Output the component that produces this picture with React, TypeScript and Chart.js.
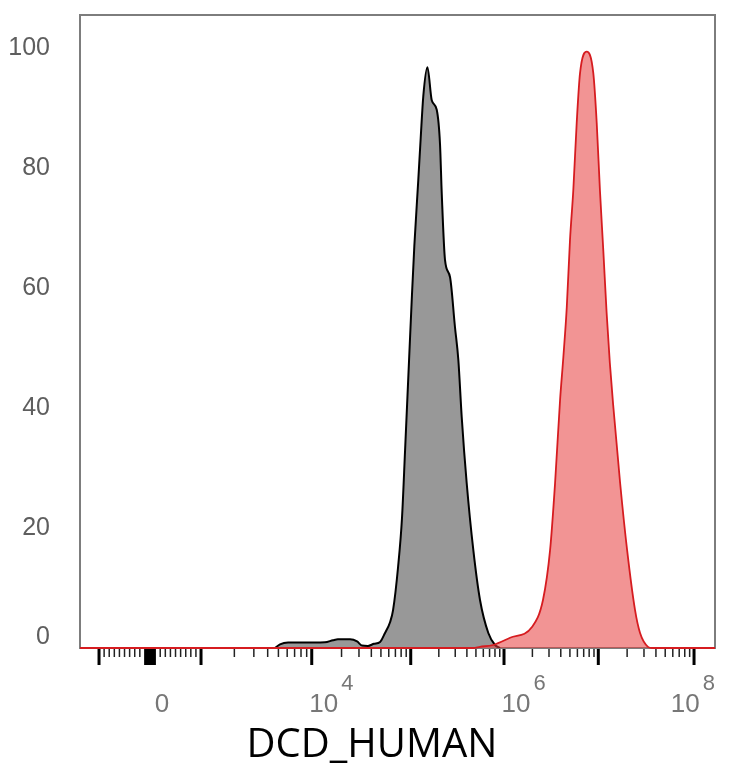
import React, { useEffect, useRef } from 'react';
import { Chart, registerables, LinearScale } from 'chart.js';

Chart.register(...registerables);

// ---------------- data ----------------
// Gray (control) histogram: intensity values and % of max
const GRAY_X = [4.65e3, 5.17e3, 6.11e3, 7.83e3, 1.36e4, 1.64e4, 1.84e4, 2.44e4, 2.87e4, 3.22e4, 3.70e4, 4.26e4, 4.90e4, 5.50e4, 6.18e4, 6.63e4, 7.45e4, 8.17e4, 8.77e4, 9.62e4, 1.025e5, 1.093e5, 1.205e5, 1.279e5, 1.364e5, 1.51e5, 1.68e5, 1.90e5, 2.06e5, 2.15e5, 2.33e5, 2.64e5, 2.98e5, 3.24e5, 3.52e5, 3.98e5, 4.69e5, 5.53e5, 6.79e5, 8.01e5, 9.06e5];
const GRAY_Y = [0, 0.6, 0.9, 0.9, 0.95, 1.3, 1.45, 1.45, 1.1, 0.4, 0.35, 0.7, 1.0, 2.5, 4.3, 6.3, 13.5, 21.8, 33, 48, 58, 67, 78, 85, 92, 96.8, 91.3, 89.7, 84, 75.8, 64.7, 61.8, 53.5, 48, 38.5, 27.5, 16.3, 8, 2.5, 0.5, 0];

// Red (DCD_HUMAN stained) histogram
const RED_X = [-1373, 4.66e5, 5.53e5, 7.62e5, 1.16e6, 1.98e6, 2.59e6, 3.08e6, 3.48e6, 3.93e6, 4.26e6, 4.63e6, 5.01e6, 5.43e6, 5.90e6, 6.40e6, 7.54e6, 8.85e6, 9.62e6, 1.04e7, 1.13e7, 1.22e7, 1.32e7, 1.43e7, 1.69e7, 2.00e7, 2.42e7, 2.73e7, 3.30e7, 3.64e7, 1.656e8];
const RED_Y = [0, 0, 0.2, 0.5, 1.7, 3.5, 8, 16.3, 27.5, 41.3, 48.5, 56.8, 68, 76.3, 87.5, 95.8, 99.4, 95.8, 87.5, 76.3, 66, 56, 47.5, 40.5, 27.5, 16.3, 6.3, 2.5, 0.2, 0, 0];

// axis range
const X_MIN = -1373;
const X_MAX = 1.656e8;
const Y_MIN = 0;
const Y_MAX = 105.5;
const Y_TICKS = [0, 20, 40, 60, 80, 100];

// x tick marks
const X_MAJOR_TICKS = [-1000, 0, 1000, 1e4, 1e5, 1e6, 1e7, 1e8];
const X_LINEAR_MINOR = [-900, -800, -700, -600, -500, -400, -300, -200, 200, 300, 400, 500, 600, 700, 800, 900];
const X_DENSE = [-100, -90, -80, -70, -60, -50, -40, -30, -20, -10, 10, 20, 30, 40, 50, 60, 70, 80, 90, 100];
const X_LOG_MULT = [2, 3, 4, 5, 6, 7, 8, 9];
const X_LOG_DECADES = [1e3, 1e4, 1e5, 1e6, 1e7];

// x tick labels (base, exponent)
const X_LABEL_VALUES = [0, 1e4, 1e6, 1e8];
const X_LABEL_BASE = ['0', '10', '10', '10'];
const X_LABEL_EXP = ['', '4', '6', '8'];

const X_TITLE = 'DCD_HUMAN';

// biexponential-like display transform (logicle style)
const DECADE_EXP = [3, 4, 5, 6, 7, 8];
const DECADE_POS = [1, 3.171, 5.112, 6.941, 8.79, 10.667];
const LINEAR_LIMIT = 1000;

function fwd(v: number): number {
  if (v <= LINEAR_LIMIT) return v / LINEAR_LIMIT;
  const e = Math.log10(v);
  const n = DECADE_EXP.length;
  for (let i = 0; i < n - 1; i++) {
    if (e <= DECADE_EXP[i + 1]) {
      return DECADE_POS[i] + (e - DECADE_EXP[i]) * (DECADE_POS[i + 1] - DECADE_POS[i]);
    }
  }
  return DECADE_POS[n - 1] + (e - DECADE_EXP[n - 1]) * (DECADE_POS[n - 1] - DECADE_POS[n - 2]);
}

function inv(u: number): number {
  if (u <= 1) return u * LINEAR_LIMIT;
  const n = DECADE_EXP.length;
  for (let i = 0; i < n - 1; i++) {
    if (u <= DECADE_POS[i + 1]) {
      return Math.pow(10, DECADE_EXP[i] + (u - DECADE_POS[i]) / (DECADE_POS[i + 1] - DECADE_POS[i]));
    }
  }
  return Math.pow(10, DECADE_EXP[n - 1] + (u - DECADE_POS[n - 1]) / (DECADE_POS[n - 1] - DECADE_POS[n - 2]));
}

class BiexScale extends LinearScale {
  static id = 'biex';
  static defaults = LinearScale.defaults;
  _tStart = 0;
  _tRange = 1;
  buildTicks() {
    const ticks: any[] = [];
    X_MAJOR_TICKS.forEach((v) => ticks.push({ value: v, kind: 'major' }));
    X_LINEAR_MINOR.forEach((v) => ticks.push({ value: v, kind: 'minor' }));
    X_DENSE.forEach((v) => ticks.push({ value: v, kind: 'dense' }));
    X_LOG_DECADES.forEach((d) => X_LOG_MULT.forEach((m) => ticks.push({ value: d * m, kind: 'minor' })));
    ticks.sort((a, b) => a.value - b.value);
    return ticks;
  }
  configure() {
    super.configure();
    this._tStart = fwd(this.min);
    this._tRange = fwd(this.max) - this._tStart;
  }
  getPixelForValue(value: any) {
    if (value === null || value === undefined) return NaN;
    return this.getPixelForDecimal((fwd(value) - this._tStart) / this._tRange);
  }
  getValueForPixel(pixel: number) {
    return inv(this._tStart + this.getDecimalForPixel(pixel) * this._tRange);
  }
}
Chart.register(BiexScale as any);

const decorPlugin = {
  id: 'decor',
  beforeDatasetsDraw(chart: any) {
    const { ctx, chartArea } = chart;
    ctx.save();
    ctx.strokeStyle = '#7d7d7d';
    ctx.lineWidth = 2;
    ctx.strokeRect(chartArea.left, chartArea.top, chartArea.right - chartArea.left, chartArea.bottom - chartArea.top);
    ctx.restore();
  },
  afterDatasetsDraw(chart: any) {
    const { ctx, chartArea } = chart;
    const xs = chart.scales.x;
    ctx.save();
    const y0 = chartArea.bottom + 1;
    xs.ticks.forEach((t: any) => {
      const px = xs.getPixelForValue(t.value);
      let len = 8;
      let w = 1.5;
      let col = '#222';
      if (t.kind === 'major') { len = 16; w = 3; col = '#000'; }
      else if (t.kind === 'dense') { len = 16; w = 1.5; col = '#000'; }
      ctx.beginPath();
      ctx.strokeStyle = col;
      ctx.lineWidth = w;
      ctx.moveTo(px, y0);
      ctx.lineTo(px, y0 + len);
      ctx.stroke();
    });
    // tick labels
    const baseFont = '26px "Liberation Sans", Arial, sans-serif';
    const expFont = '22px "Liberation Sans", Arial, sans-serif';
    ctx.fillStyle = '#777';
    ctx.textBaseline = 'middle';
    X_LABEL_VALUES.forEach((v, i) => {
      let c = xs.getPixelForValue(v) + 12;
      ctx.font = baseFont;
      const bw = ctx.measureText(X_LABEL_BASE[i]).width;
      let ew = 0;
      if (X_LABEL_EXP[i]) {
        ctx.font = expFont;
        ew = ctx.measureText(X_LABEL_EXP[i]).width;
      }
      const rightEdge = c + bw / 2 + (ew ? 3 + ew : 0);
      const limit = chartArea.right;
      if (rightEdge > limit) c -= rightEdge - limit;
      ctx.font = baseFont;
      ctx.textAlign = 'center';
      ctx.fillText(X_LABEL_BASE[i], c, chartArea.bottom + 57);
      if (X_LABEL_EXP[i]) {
        ctx.font = expFont;
        ctx.textAlign = 'left';
        ctx.fillText(X_LABEL_EXP[i], c + bw / 2 + 3, chartArea.bottom + 36);
      }
    });
    // axis title
    ctx.fillStyle = '#000';
    ctx.font = '40px "Open Sans", "Noto Sans", sans-serif';
    ctx.textAlign = 'center';
    ctx.textBaseline = 'middle';
    ctx.fillText(X_TITLE, chart.width / 2 + 5, chartArea.bottom + 98);
    ctx.restore();
  },
};

export default function App() {
  const ref = useRef<HTMLCanvasElement>(null);
  useEffect(() => {
    if (!ref.current) return;
    const chart = new Chart(ref.current, {
      type: 'line',
      data: {
        datasets: [
          {
            label: 'DCD_HUMAN',
            data: RED_X.map((x, i) => ({ x, y: RED_Y[i] })),
            borderColor: 'rgb(214,28,32)',
            backgroundColor: 'rgba(232,60,60,0.55)',
            borderWidth: 1.8,
            fill: 'origin',
            pointRadius: 0,
            cubicInterpolationMode: 'monotone',
            clip: 3,
          },
          {
            label: 'Control',
            data: GRAY_X.map((x, i) => ({ x, y: GRAY_Y[i] })),
            borderColor: '#000',
            backgroundColor: '#989898',
            borderWidth: 2,
            fill: 'origin',
            pointRadius: 0,
            cubicInterpolationMode: 'monotone',
          },
        ],
      } as any,
      options: {
        animation: false,
        responsive: true,
        maintainAspectRatio: false,
        layout: { padding: { left: 0, right: 11, top: 7, bottom: 0 } },
        plugins: {
          legend: { display: false },
          tooltip: { enabled: false },
        },
        scales: {
          x: {
            type: 'biex',
            min: X_MIN,
            max: X_MAX,
            ticks: { display: false },
            grid: { display: false, drawTicks: false },
            border: { display: false },
            afterFit: (s: any) => { s.height = 120; },
          },
          y: {
            type: 'linear',
            min: Y_MIN,
            max: Y_MAX,
            afterBuildTicks: (s: any) => { s.ticks = Y_TICKS.map((v) => ({ value: v })); },
            ticks: {
              padding: 30,
              color: '#5e5e5e',
              font: (c: any) => ({
                family: '"Liberation Sans", Arial, sans-serif',
                size: 25,
                lineHeight: c.tick && c.tick.value === 0 ? '22px' : 1.2,
              }),
              callback: (v: any) => (v === 0 ? ['0', ''] : String(v)),
            },
            grid: { display: false, drawTicks: false },
            border: { display: false },
            afterFit: (s: any) => { s.width = 72; s.paddingTop = 0; s.paddingBottom = 0; },
          },
        },
      } as any,
      plugins: [decorPlugin],
    });
    return () => chart.destroy();
  }, []);
  return (
    <div style={{ position: 'relative', width: 718, height: 760 }}>
      <canvas ref={ref} />
    </div>
  );
}
